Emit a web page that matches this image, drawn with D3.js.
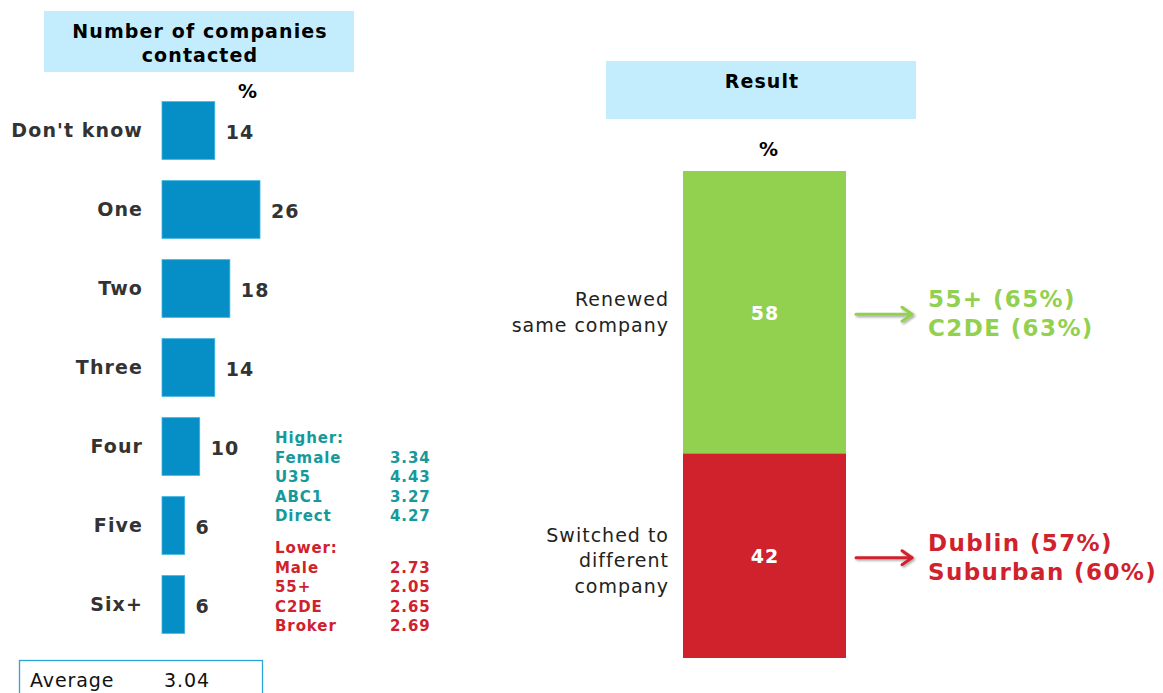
<!DOCTYPE html>
<html>
<head>
<meta charset="utf-8">
<script src="https://cdn.jsdelivr.net/npm/d3@7"></script>
<style>
  html, body { margin: 0; padding: 0; background: #fff; }
  svg { display: block; font-family: "DejaVu Sans", Verdana, sans-serif; }
</style>
</head>
<body>
<svg id="chart" width="1163" height="693"></svg>
<script>
// Number of companies contacted (%)
const companyCategories = ["Don't know", "One", "Two", "Three", "Four", "Five", "Six+"];
const companyValues = [14, 26, 18, 14, 10, 6, 6];

// Average number contacted, by subgroup
const higherGroups = ["Female", "U35", "ABC1", "Direct"];
const higherValues = ["3.34", "4.43", "3.27", "4.27"];
const lowerGroups = ["Male", "55+", "C2DE", "Broker"];
const lowerValues = ["2.73", "2.05", "2.65", "2.69"];
const averageValue = "3.04";

// Result of renewal (%)
const resultCategories = ["Renewed same company", "Switched to different company"];
const resultLabelLines = [["Renewed", "same company"], ["Switched to", "different", "company"]];
const resultValues = [58, 42];
const resultNotes = [["55+ (65%)", "C2DE (63%)"], ["Dublin (57%)", "Suburban (60%)"]];

const svg = d3.select("#chart");
const dark = "#333333";
const blue = "#058fc6";
const teal = "#16999b";
const red = "#cf222d";
const green = "#92d050";
const headerFill = "#c3edfc";

// bold 19px text helper
function boldText(sel, ls = 1.1) {
  return sel.attr("font-size", 19).attr("font-weight", "bold").attr("letter-spacing", ls);
}

// ---------- Left panel: horizontal bars ----------
svg.append("rect").attr("x", 44).attr("y", 11).attr("width", 310).attr("height", 61).attr("fill", headerFill);
boldText(svg.append("text").attr("x", 200).attr("y", 38).attr("text-anchor", "middle").attr("fill", "#000"))
  .text("Number of companies");
boldText(svg.append("text").attr("x", 200).attr("y", 62).attr("text-anchor", "middle").attr("fill", "#000"))
  .text("contacted");
boldText(svg.append("text").attr("x", 248).attr("y", 98).attr("text-anchor", "middle").attr("fill", "#000"))
  .text("%");

const x = d3.scaleLinear().domain([0, 26]).range([162, 260]);
const y = d3.scaleBand().domain(companyCategories).range([91, 644]).paddingInner(0.27).paddingOuter(0.135);

const rows = svg.append("g").selectAll("g").data(companyCategories).join("g");
rows.append("rect")
  .attr("x", x(0))
  .attr("y", d => y(d))
  .attr("width", (d, i) => x(companyValues[i]) - x(0))
  .attr("height", y.bandwidth())
  .attr("fill", blue)
  .attr("stroke", "#3ab0e0").attr("stroke-width", 0.8);
boldText(rows.append("text"))
  .attr("x", 143)
  .attr("y", d => y(d) + y.bandwidth() / 2)
  .attr("dy", "0.35em")
  .attr("text-anchor", "end")
  .attr("fill", dark)
  .text(d => d);
boldText(rows.append("text"))
  .attr("x", (d, i) => x(companyValues[i]) + 11)
  .attr("y", d => y(d) + y.bandwidth() / 2 + 2)
  .attr("dy", "0.35em")
  .attr("fill", dark)
  .text((d, i) => companyValues[i]);

// Subgroup averages
const sub = svg.append("g").attr("font-size", 15).attr("font-weight", "bold").attr("letter-spacing", 0.9);
const lineH = 19.5;
sub.append("text").attr("x", 275).attr("y", 443).attr("fill", teal).text("Higher:");
higherGroups.forEach((g, i) => {
  sub.append("text").attr("x", 275).attr("y", 443 + lineH * (i + 1)).attr("fill", teal).text(g);
  sub.append("text").attr("x", 390).attr("y", 443 + lineH * (i + 1)).attr("fill", teal).text(higherValues[i]);
});
sub.append("text").attr("x", 275).attr("y", 553).attr("fill", red).text("Lower:");
lowerGroups.forEach((g, i) => {
  sub.append("text").attr("x", 275).attr("y", 553 + lineH * (i + 1)).attr("fill", red).text(g);
  sub.append("text").attr("x", 390).attr("y", 553 + lineH * (i + 1)).attr("fill", red).text(lowerValues[i]);
});

// Average box
svg.append("rect").attr("x", 19.5).attr("y", 660.5).attr("width", 243).attr("height", 40)
  .attr("fill", "none").attr("stroke", "#2ea3d8").attr("stroke-width", 1.3);
svg.append("text").attr("x", 30).attr("y", 687).attr("font-size", 19).attr("letter-spacing", 0.9).attr("fill", "#111").text("Average");
svg.append("text").attr("x", 164).attr("y", 687).attr("font-size", 19).attr("letter-spacing", 0.9).attr("fill", "#111").text(averageValue);

// ---------- Right panel: stacked result bar ----------
svg.append("rect").attr("x", 606).attr("y", 61).attr("width", 310).attr("height", 58).attr("fill", headerFill);
boldText(svg.append("text").attr("x", 762).attr("y", 88).attr("text-anchor", "middle").attr("fill", "#000"))
  .text("Result");
boldText(svg.append("text").attr("x", 769).attr("y", 156).attr("text-anchor", "middle").attr("fill", "#000"))
  .text("%");

const ys = d3.scaleLinear().domain([0, 100]).range([171, 658]);
const stackData = d3.stack().keys(resultCategories)([
  Object.fromEntries(resultCategories.map((c, i) => [c, resultValues[i]]))
]);
const fills = [green, red];
const arrowColors = [green, red];
const labelShift = [0, 5];

const defs = svg.append("defs");
const shadow = defs.append("filter").attr("id", "soft").attr("x", "-20%").attr("y", "-50%").attr("width", "140%").attr("height", "200%");
shadow.append("feDropShadow").attr("dx", 1.5).attr("dy", 1.5).attr("stdDeviation", 1.2).attr("flood-color", "#000").attr("flood-opacity", 0.35);

stackData.forEach((layer, i) => {
  const y0 = ys(layer[0][0]), y1 = ys(layer[0][1]);
  const mid = (y0 + y1) / 2;
  svg.append("rect").attr("x", 683).attr("y", y0).attr("width", 163).attr("height", y1 - y0).attr("fill", fills[i]);
  boldText(svg.append("text")).attr("x", 765).attr("y", mid + 1).attr("dy", "0.35em").attr("text-anchor", "middle")
    .attr("fill", "#fff").text(resultValues[i]);

  // category label to the left of the bar
  const lines = resultLabelLines[i];
  const lh = 25.5;
  const startY = mid + labelShift[i] - (lines.length - 1) * lh / 2;
  lines.forEach((t, j) => {
    svg.append("text").attr("x", 669).attr("y", startY + j * lh).attr("dy", "0.35em").attr("text-anchor", "end")
      .attr("font-size", 19).attr("letter-spacing", 1).attr("fill", "#222").text(t);
  });

  // arrow to annotation
  const ay = mid + 2;
  const arrow = svg.append("g").attr("filter", "url(#soft)").attr("stroke", arrowColors[i]).attr("fill", "none")
    .attr("stroke-width", 3).attr("stroke-linecap", "round");
  arrow.append("line").attr("x1", 856).attr("y1", ay).attr("x2", 912).attr("y2", ay);
  arrow.append("polyline").attr("points", `${902},${ay - 7} ${912},${ay} ${902},${ay + 7}`).attr("stroke-linejoin", "round");

  resultNotes[i].forEach((t, j) => {
    svg.append("text").attr("x", 928).attr("y", ay - 15 + j * 29).attr("dy", "0.35em")
      .attr("font-size", 23).attr("font-weight", "bold").attr("letter-spacing", 1.4)
      .attr("fill", arrowColors[i]).text(t);
  });
});
</script>
</body>
</html>
